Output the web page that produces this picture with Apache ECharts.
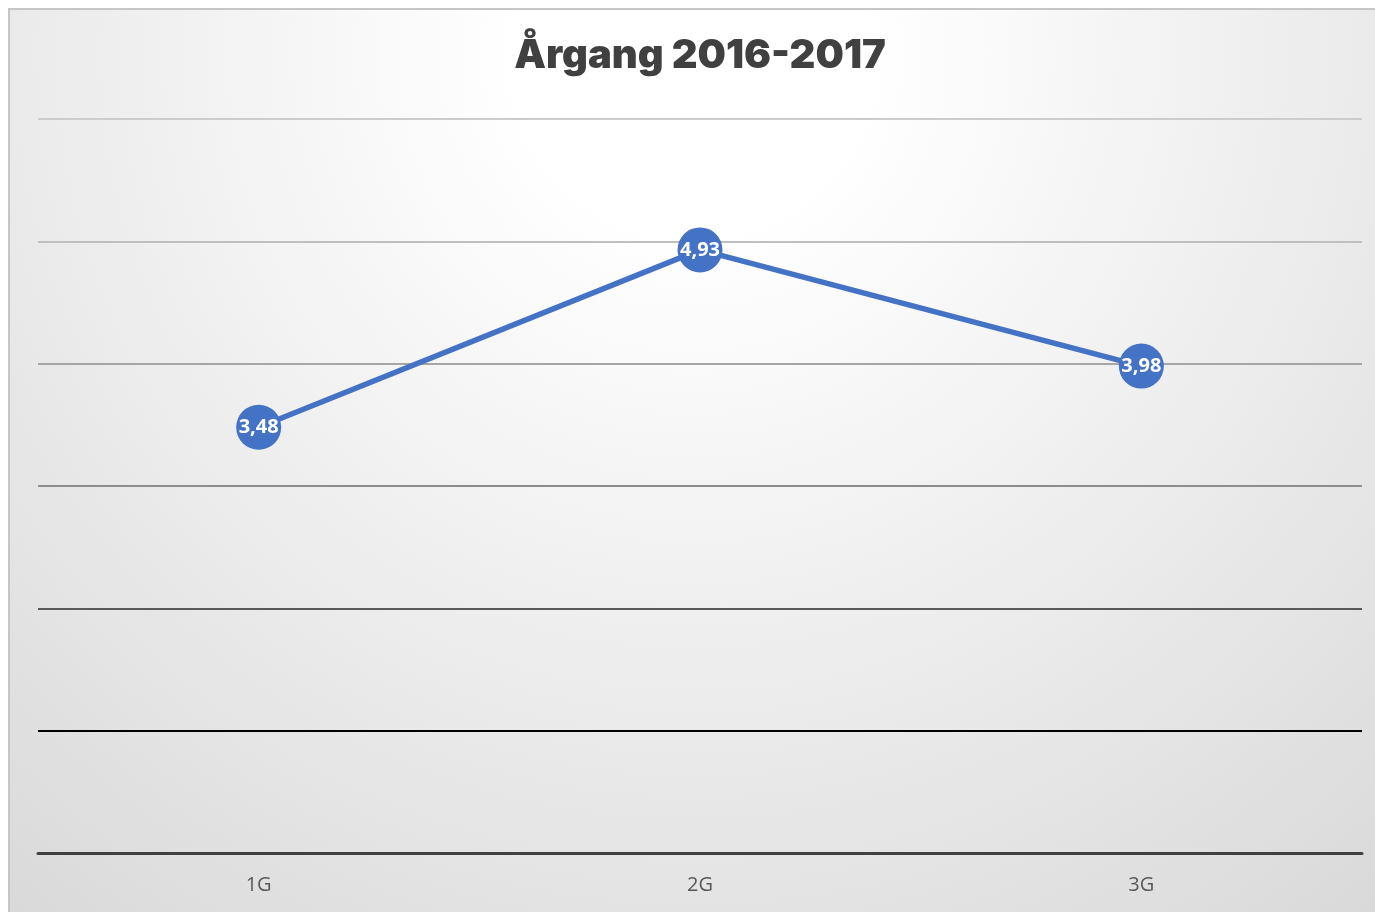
<!DOCTYPE html>
<html>
<head>
<meta charset="utf-8">
<title>Årgang 2016-2017</title>
<script src="https://cdn.jsdelivr.net/npm/echarts@6/dist/echarts.min.js"></script>
<style>
  html, body {
    margin: 0;
    padding: 0;
    background: #ffffff;
  }
  #chart {
    position: absolute;
    left: 8px;
    top: 8px;
    width: 1365px;
    height: 902px;
    border-top: 2px solid #c6c6c6;
    border-left: 2px solid #c6c6c6;
  }
</style>
</head>
<body>
<div id="chart"></div>
<script>
// data
const categories = ['1G', '2G', '3G']
const values = [3.48, 4.93, 3.98]
const yTicks = [0, 1, 2, 3, 4, 5, 6]

// gridline colours from bottom (0) to top (6)
const gridColors = ['#404040', '#000000', '#595959', '#8c8c8c', '#a6a6a6', '#bfbfbf', '#cccccc']

const chart = echarts.init(document.getElementById('chart'))

const option = {
  backgroundColor: {
    type: 'radial',
    x: 0.5,
    y: 0.05,
    r: 1.3,
    colorStops: [
      { offset: 0, color: '#ffffff' },
      { offset: 0.15, color: '#ffffff' },
      { offset: 1, color: '#d6d6d6' }
    ]
  },
  title: {
    text: 'Årgang 2016-2017',
    left: 685,
    textAlign: 'center',
    top: 21,
    textStyle: {
      fontFamily: 'Inter',
      fontWeight: 900,
      fontSize: 40,
      color: '#404040'
    }
  },
  grid: {
    left: 28,
    right: 13,
    top: 109,
    bottom: 59
  },
  xAxis: {
    type: 'category',
    data: categories,
    boundaryGap: true,
    axisLine: {
      show: true,
      lineStyle: { color: '#404040', width: 3 }
    },
    axisTick: { show: false },
    axisLabel: {
      margin: 22,
      fontFamily: 'Open Sans',
      fontSize: 20,
      color: '#595959'
    },
    splitLine: { show: false }
  },
  yAxis: {
    type: 'value',
    min: yTicks[0],
    max: yTicks[yTicks.length - 1],
    interval: 1,
    axisLine: { show: false },
    axisTick: { show: false },
    axisLabel: { show: false },
    splitLine: {
      show: true,
      lineStyle: { color: gridColors, width: 2 }
    }
  },
  series: [
    {
      type: 'line',
      data: values,
      symbol: 'circle',
      symbolSize: 45,
      lineStyle: { color: '#4472c4', width: 5.5 },
      itemStyle: { color: '#4472c4' },
      label: {
        show: true,
        position: 'inside',
        formatter: p => String(p.value).replace('.', ','),
        fontFamily: 'Open Sans',
        fontWeight: 'bold',
        fontSize: 20,
        color: '#ffffff'
      },
      z: 5
    }
  ]
}

chart.setOption(option)
window.addEventListener('resize', () => chart.resize())
</script>
</body>
</html>
